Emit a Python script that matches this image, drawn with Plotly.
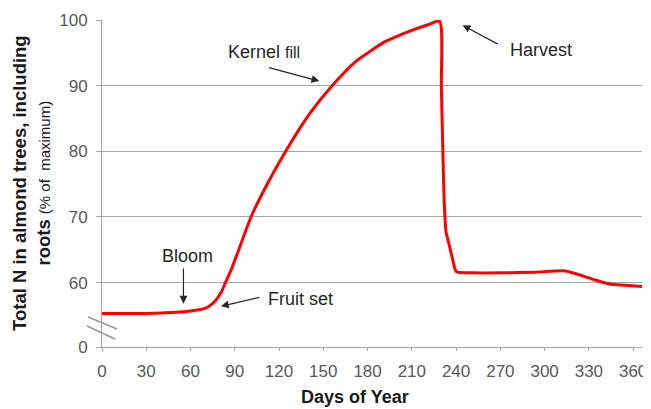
import plotly.graph_objects as go

days = [0, 30, 50, 60, 68.6, 72.6, 76.7, 80.7, 83.7, 87.8, 93.8, 101, 111, 125, 141, 156.4, 171.5, 179.6,
        191.7, 201.8, 210.8, 219.9, 228.8, 230, 231, 232, 233.2, 235.5, 237.8, 240.1, 252, 272, 293, 313,
        319, 333, 344, 355, 366]
total_n = [55.3, 55.3, 55.5, 55.7, 56.0, 56.4, 57.2, 58.5, 60.0, 62.1, 65.7, 70.0, 74.6, 80.2, 85.8, 90.1,
           93.6, 94.9, 96.7, 97.7, 98.5, 99.2, 99.8,
           90.0, 80.2, 72.0, 67.7, 65.6, 63.4, 61.7, 61.5, 61.5, 61.6, 61.8, 61.5, 60.5, 59.8, 59.6, 59.4]

x_ticks = [0, 30, 60, 90, 120, 150, 180, 210, 240, 270, 300, 330, 360]
y_tickvals = [50.2, 60, 70, 80, 90, 100]
y_ticktext = ["0", "60", "70", "80", "90", "100"]

FONT = "Liberation Sans, Arial, sans-serif"
TICKC = "#595959"
GRID = "#a6a6a6"
TXT = "#262626"

# page body has an 8px margin, so the figure is drawn 8px in from the top-left
W, H = 643, 401
L, R, T, B = 94, 9, 12, 62
PW, PH = W - L - R, H - T - B

fig = go.Figure()
fig.add_trace(go.Scatter(x=days, y=total_n, mode="lines",
                         line=dict(color="#ff0000", width=3, shape="spline", smoothing=0.6),
                         hoverinfo="skip"))

fig.update_layout(
    width=W, height=H,
    margin=dict(l=L, r=R, t=T, b=B, autoexpand=False),
    plot_bgcolor="white", paper_bgcolor="white",
    showlegend=False,
    font=dict(family=FONT, size=17, color=TICKC),
    xaxis=dict(range=[0, 366], tickvals=x_ticks, showgrid=False, zeroline=False,
               automargin=False,
               showline=True, linecolor=GRID, linewidth=1,
               ticks="outside", ticklen=3, tickcolor=GRID,
               ticklabeloverflow="allow", ticklabelstandoff=6,
               tickfont=dict(size=17, color=TICKC)),
    yaxis=dict(range=[50.2, 100], tickvals=y_tickvals, ticktext=y_ticktext,
               automargin=False,
               showgrid=True, gridcolor=GRID, gridwidth=1.2, zeroline=False,
               showline=True, linecolor=GRID, linewidth=1,
               ticks="outside", ticklen=5, tickcolor=GRID, ticklabelstandoff=5,
               tickfont=dict(size=17, color=TICKC)),
)

# x-axis title
fig.add_annotation(xref="paper", yref="paper", x=0.5, y=0, xanchor="center", yanchor="top",
                   xshift=-17, yshift=-38, showarrow=False,
                   text="<b>Days of Year</b>", font=dict(family=FONT, size=18, color="#1a1a1a"))

# y-axis title (two lines)
fig.add_annotation(xref="paper", yref="paper", x=0, y=0.5, xanchor="center", yanchor="middle",
                   xshift=31.5 - 8 - L, textangle=-90,
                   showarrow=False, align="center",
                   text="<b>Total N in almond trees, including</b><br><b>roots</b> <span style='font-size:15px'>(% of&nbsp;&nbsp;maximum)</span>",
                   font=dict(family=FONT, size=18.5, color="#1a1a1a"))

# text labels
fig.add_annotation(x=110, y=95.1, text="Kernel <span style='font-size:16px'>fill</span>", showarrow=False,
                   font=dict(size=18, color=TXT))
fig.add_annotation(x=274.9, y=95.4, xanchor="left", text="Harvest", showarrow=False,
                   font=dict(size=18, color=TXT))
fig.add_annotation(x=57.7, y=64.0, text="Bloom", showarrow=False,
                   font=dict(size=18, color=TXT))
fig.add_annotation(x=111.4, y=57.5, xanchor="left", text="Fruit set", showarrow=False,
                   font=dict(size=18, color=TXT))

# arrows (head at x,y ; tail at ax,ay)
arrows = [
    (147.3, 90.7, 112.2, 92.8),
    (244.4, 99.2, 269.3, 96.2),
    (55.2, 56.8, 55.2, 62.4),
    (80.6, 56.4, 107.7, 57.8),
]
for hx, hy, tx, ty in arrows:
    fig.add_annotation(x=hx, y=hy, ax=tx, ay=ty, xref="x", yref="y", axref="x", ayref="y",
                       text="", showarrow=True, arrowhead=2, arrowsize=1.3, arrowwidth=1.2,
                       arrowcolor=TXT, standoff=0)

# axis break marks (screen pixels converted to paper fractions)
for (x0, y0, x1, y1) in [(88, 317, 117, 329), (87, 326, 115, 339)]:
    fig.add_shape(type="line", xref="paper", yref="paper",
                  x0=(x0 - 8 - L) / PW, x1=(x1 - 8 - L) / PW,
                  y0=(H - B + 8 - y0) / PH, y1=(H - B + 8 - y1) / PH,
                  line=dict(color="#999999", width=1.6))

fig.write_html("out.html")
